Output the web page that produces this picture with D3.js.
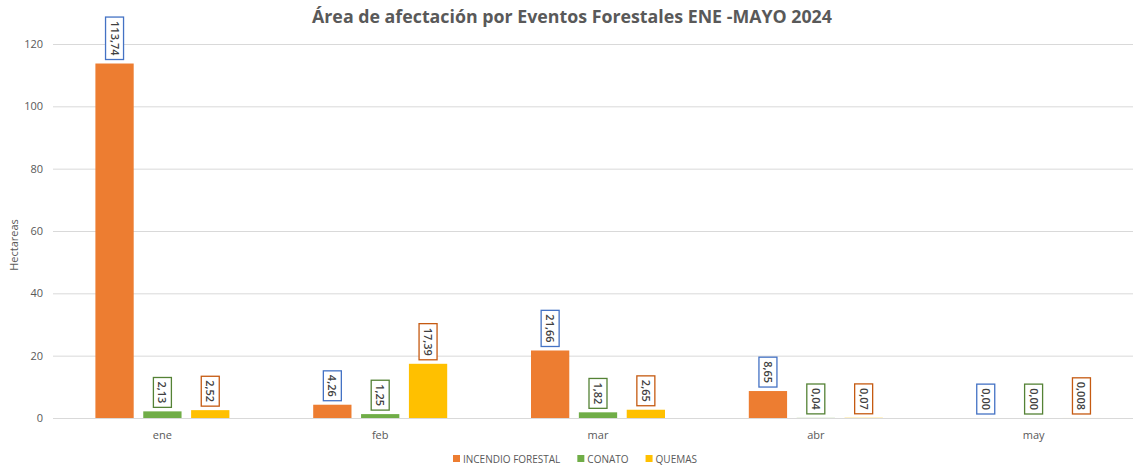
<!DOCTYPE html>
<html>
<head>
<meta charset="utf-8">
<script src="https://cdn.jsdelivr.net/npm/d3@7"></script>
<style>
  body { margin: 0; background: #fff; }
  text { font-family: "Open Sans", "Liberation Sans", sans-serif; }
</style>
</head>
<body>
<div id="chart"></div>
<script>
// data
var months = ["ene", "feb", "mar", "abr", "may"];
var incendio = [113.74, 4.26, 21.66, 8.65, 0.00];
var conato = [2.13, 1.25, 1.82, 0.04, 0.00];
var quemas = [2.52, 17.39, 2.65, 0.07, 0.008];
var incendioLabels = ["113,74", "4,26", "21,66", "8,65", "0,00"];
var conatoLabels = ["2,13", "1,25", "1,82", "0,04", "0,00"];
var quemasLabels = ["2,52", "17,39", "2,65", "0,07", "0,008"];
var yTicks = [0, 20, 40, 60, 80, 100, 120];

var series = [
  {name: "INCENDIO FORESTAL", values: incendio, labels: incendioLabels, color: "#ED7D31", box: "#4472C4"},
  {name: "CONATO", values: conato, labels: conatoLabels, color: "#70AD47", box: "#548235"},
  {name: "QUEMAS", values: quemas, labels: quemasLabels, color: "#FFC000", box: "#C55A11"}
];

var W = 1133, H = 468;
var svg = d3.select("#chart").append("svg")
  .attr("width", W).attr("height", H);

// title
svg.append("text")
  .attr("x", 572).attr("y", 23)
  .attr("text-anchor", "middle")
  .style("font-size", "17.8px")
  .style("font-weight", "bold")
  .style("fill", "#595959")
  .text("Área de afectación por Eventos Forestales ENE -MAYO 2024");

var y = d3.scaleLinear().domain([0, 120]).range([418, 44]);
var x = d3.scaleBand().domain(months).range([53.5, 1142.5]);
var sub = d3.scaleBand().domain([0, 1, 2]).range([0, 134]).paddingInner(0.2);

// grid
svg.append("g")
  .selectAll("line")
  .data(yTicks)
  .enter().append("line")
    .attr("x1", 53).attr("x2", W)
    .attr("y1", function(d) { return y(d) + 0.5; })
    .attr("y2", function(d) { return y(d) + 0.5; })
    .style("stroke", "#d9d9d9")
    .style("stroke-width", 1);

// y axis
var yAxis = svg.append("g")
  .attr("transform", "translate(53,0)")
  .call(d3.axisLeft(y).tickValues(yTicks).tickSize(0).tickPadding(10));
yAxis.select(".domain").remove();
yAxis.selectAll("text").style("fill", "#595959").style("font-size", "11px");

svg.append("text")
  .attr("transform", "translate(18,245) rotate(-90)")
  .attr("text-anchor", "middle")
  .style("font-size", "11px")
  .style("fill", "#595959")
  .text("Hectareas");

// x axis
var xAxis = svg.append("g")
  .attr("transform", "translate(0,418)")
  .call(d3.axisBottom(x).tickSize(0).tickPadding(13));
xAxis.select(".domain").remove();
xAxis.selectAll("text").style("fill", "#595959").style("font-size", "11px");

// bars + labels
series.forEach(function(s, i) {
  var g = svg.append("g");
  var rows = months.map(function(m, j) { return {m: m, v: s.values[j], l: s.labels[j]}; });
  g.selectAll("rect")
    .data(rows)
    .enter().append("rect")
      .attr("x", function(d) { return x(d.m) + x.bandwidth() / 2 - 67 + sub(i); })
      .attr("y", function(d) { return y(d.v); })
      .attr("width", sub.bandwidth())
      .attr("height", function(d) { return y(0) - y(d.v); })
      .style("fill", s.color);

  var lab = g.selectAll(".lab")
    .data(rows)
    .enter().append("g")
      .attr("class", "lab")
      .attr("transform", function(d) {
        var cx = x(d.m) + x.bandwidth() / 2 - 67 + sub(i) + sub.bandwidth() / 2;
        return "translate(" + cx + "," + (y(d.v) - 4) + ")";
      });
  lab.each(function(d) {
    var el = d3.select(this);
    var t = el.append("text")
      .attr("transform", "rotate(90)")
      .attr("text-anchor", "end")
      .attr("x", -4).attr("y", 4)
      .style("font-size", "11px")
      .style("font-weight", "600")
      .style("fill", "#404040")
      .text(d.l);
    var len = t.node().getComputedTextLength();
    el.insert("rect", "text")
      .attr("x", -9).attr("y", -len - 8)
      .attr("width", 18).attr("height", len + 8)
      .style("fill", "#fff")
      .style("stroke", s.box)
      .style("stroke-width", 1.3);
  });
});

// legend
var legend = svg.append("g").attr("transform", "translate(0,459)");
var lx = 453;
series.forEach(function(s) {
  legend.append("rect").attr("x", lx).attr("y", -4).attr("width", 7).attr("height", 7).style("fill", s.color);
  var t = legend.append("text").attr("x", lx + 10).attr("y", 3.5)
    .style("font-size", "10px").style("fill", "#595959").text(s.name);
  lx += 10 + t.node().getComputedTextLength() + 17;
});
</script>
</body>
</html>
